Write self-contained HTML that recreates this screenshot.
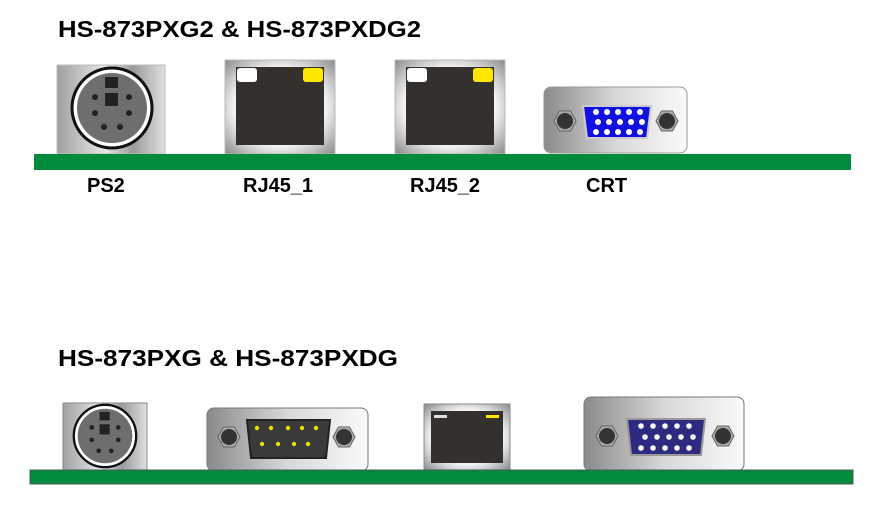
<!DOCTYPE html>
<html><head><style>html,body{margin:0;padding:0;background:#fff}svg{display:block}</style></head><body>
<svg width="884" height="526" viewBox="0 0 884 526" xmlns="http://www.w3.org/2000/svg" font-family="Liberation Sans, Arial, sans-serif" font-weight="bold">
<defs>
<linearGradient id="met" x1="0" x2="1" y1="0" y2="0"><stop offset="0" stop-color="#8a8a8a"/><stop offset="0.5" stop-color="#d8d8d8"/><stop offset="1" stop-color="#fafafa"/></linearGradient>
<linearGradient id="met2" x1="0" x2="1" y1="0" y2="0"><stop offset="0" stop-color="#a0a0a0"/><stop offset="0.45" stop-color="#e8e8e8"/><stop offset="0.7" stop-color="#9a9a9a"/><stop offset="1" stop-color="#e0e0e0"/></linearGradient>
<radialGradient id="rj" cx="0.5" cy="0.5" r="0.7"><stop offset="0.6" stop-color="#f2f2f2"/><stop offset="1" stop-color="#8a8a8a"/></radialGradient>
<g id="ps2">
<circle r="40" fill="#fff" stroke="#111" stroke-width="3"/>
<circle r="36" fill="#6e6e6e" stroke="#fff" stroke-width="2"/>
<rect x="-7" y="-31" width="13" height="11" fill="#222"/>
<rect x="-7" y="-15" width="13" height="13" fill="#222"/>
<circle cx="-17" cy="-11" r="3" fill="#222"/><circle cx="17" cy="-11" r="3" fill="#222"/>
<circle cx="-17" cy="5" r="3" fill="#222"/><circle cx="17" cy="5" r="3" fill="#222"/>
<circle cx="-8" cy="19" r="3" fill="#222"/><circle cx="8" cy="19" r="3" fill="#222"/>
</g>
<g id="screw"><polygon points="-11,0 -5.5,-10 5.5,-10 11,0 5.5,10 -5.5,10" fill="#aaa" stroke="#666"/><circle r="8" fill="#333"/></g>
</defs>

<text x="58" y="37" font-size="23" textLength="363" lengthAdjust="spacingAndGlyphs">HS-873PXG2 &amp; HS-873PXDG2</text>

<rect x="57" y="65" width="108" height="89" fill="url(#met2)" stroke="#bbb"/>
<use href="#ps2" x="112" y="108"/>
<rect x="225" y="60" width="110" height="94" fill="url(#rj)" stroke="#bbb"/>
<rect x="236" y="67" width="88" height="78" fill="#33302e"/>
<rect x="237" y="68" width="20" height="14" rx="3" fill="#fff"/>
<rect x="303" y="68" width="20" height="14" rx="3" fill="#ffe600"/>
<rect x="395" y="60" width="110" height="94" fill="url(#rj)" stroke="#bbb"/>
<rect x="406" y="67" width="88" height="78" fill="#33302e"/>
<rect x="407" y="68" width="20" height="14" rx="3" fill="#fff"/>
<rect x="473" y="68" width="20" height="14" rx="3" fill="#ffe600"/>
<rect x="544" y="87" width="143" height="66" rx="7" fill="url(#met)" stroke="#999"/>
<use href="#screw" x="565" y="121"/>
<use href="#screw" x="667" y="121"/>
<path d="M583,106 L651,106 L647,138 L587,138 Z" fill="#1010e0" stroke="#ccc" stroke-width="2"/>
<g fill="#fff">
<circle cx="596" cy="112" r="3"/><circle cx="607" cy="112" r="3"/><circle cx="618" cy="112" r="3"/><circle cx="629" cy="112" r="3"/><circle cx="640" cy="112" r="3"/>
<circle cx="598" cy="122" r="3"/><circle cx="609" cy="122" r="3"/><circle cx="620" cy="122" r="3"/><circle cx="631" cy="122" r="3"/><circle cx="642" cy="122" r="3"/>
<circle cx="596" cy="132" r="3"/><circle cx="607" cy="132" r="3"/><circle cx="618" cy="132" r="3"/><circle cx="629" cy="132" r="3"/><circle cx="640" cy="132" r="3"/>
</g>
<rect x="34" y="154" width="817" height="16" fill="#008c3a"/>
<g font-size="20">
<text x="87" y="192">PS2</text>
<text x="243" y="192">RJ45_1</text>
<text x="410" y="192">RJ45_2</text>
<text x="586" y="192">CRT</text>
</g>

<text x="58" y="366" font-size="23" textLength="340" lengthAdjust="spacingAndGlyphs">HS-873PXG &amp; HS-873PXDG</text>

<rect x="63" y="403" width="84" height="67" fill="url(#met2)" stroke="#888"/>
<use href="#ps2" transform="translate(105,436) scale(0.78)"/>
<rect x="207" y="408" width="161" height="63" rx="7" fill="url(#met)" stroke="#777"/>
<use href="#screw" x="229" y="437"/>
<use href="#screw" x="344" y="437"/>
<path d="M247,420 L330,420 L326,458 L251,458 Z" fill="#3a3a3a" stroke="#222" stroke-width="2"/>
<g fill="#e8e000">
<circle cx="257" cy="428" r="2.2"/><circle cx="271" cy="428" r="2.2"/><circle cx="288" cy="428" r="2.2"/><circle cx="302" cy="428" r="2.2"/><circle cx="316" cy="428" r="2.2"/>
<circle cx="262" cy="444" r="2.2"/><circle cx="278" cy="444" r="2.2"/><circle cx="294" cy="444" r="2.2"/><circle cx="308" cy="444" r="2.2"/>
</g>
<rect x="424" y="404" width="86" height="66" fill="url(#rj)" stroke="#888"/>
<rect x="431" y="411" width="72" height="52" fill="#33302e"/>
<rect x="434" y="415" width="13" height="3" fill="#ddd"/>
<rect x="486" y="415" width="13" height="3" fill="#ffe600"/>
<rect x="584" y="397" width="160" height="74" rx="7" fill="url(#met)" stroke="#777"/>
<use href="#screw" x="607" y="436"/>
<use href="#screw" x="723" y="436"/>
<path d="M627,419 L705,419 L701,455 L631,455 Z" fill="#2e2a80" stroke="#999" stroke-width="2"/>
<g fill="#fff">
<circle cx="641" cy="426" r="2.8"/><circle cx="653" cy="426" r="2.8"/><circle cx="665" cy="426" r="2.8"/><circle cx="677" cy="426" r="2.8"/><circle cx="689" cy="426" r="2.8"/>
<circle cx="645" cy="437" r="2.8"/><circle cx="657" cy="437" r="2.8"/><circle cx="669" cy="437" r="2.8"/><circle cx="681" cy="437" r="2.8"/><circle cx="693" cy="437" r="2.8"/>
<circle cx="641" cy="448" r="2.8"/><circle cx="653" cy="448" r="2.8"/><circle cx="665" cy="448" r="2.8"/><circle cx="677" cy="448" r="2.8"/><circle cx="689" cy="448" r="2.8"/>
</g>
<rect x="30" y="470" width="823" height="14" fill="#008c3a" stroke="#555" stroke-width="1"/>
</svg>
</body></html>
